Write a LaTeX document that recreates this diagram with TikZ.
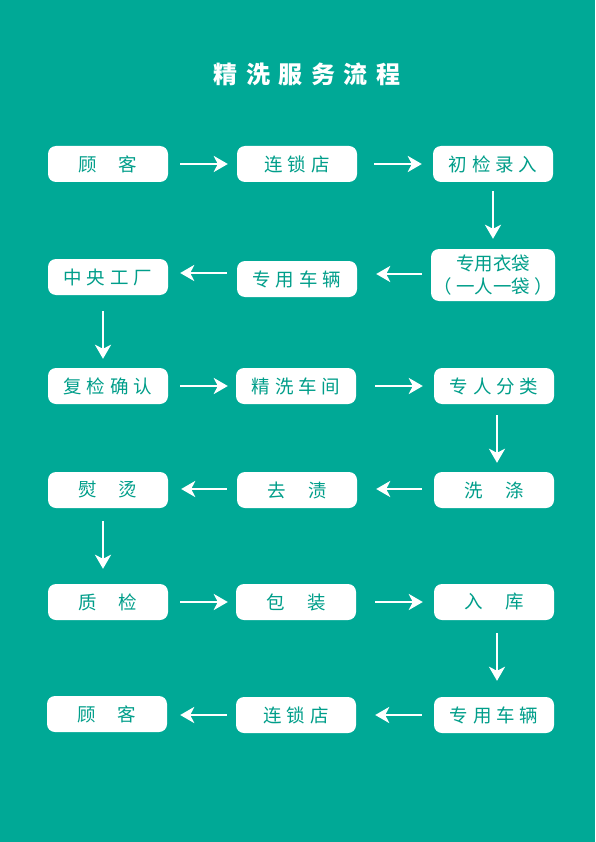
\documentclass[tikz,border=0pt]{standalone}
\usepackage{fontspec}
\newfontfamily\cjk{Noto Sans CJK SC}
\usetikzlibrary{arrows.meta}
\definecolor{teal}{RGB}{0,169,150}
\definecolor{tealtext}{RGB}{0,158,138}
\newcommand\gp{\hspace{5pt}}
\newcommand\gw{\hspace{22pt}}
\tikzset{
  box/.style={fill=white, rounded corners=8pt, minimum width=120pt, minimum height=36pt,
    inner sep=0pt, text=tealtext, font=\cjk\fontsize{18.5}{20}\selectfont, align=center},
  flow/.style={draw=white, line width=2.7pt, -{Stealth[length=14pt,width=16pt,inset=4pt]}},
}
\begin{document}
\begin{tikzpicture}[x=1pt,y=-1pt]
\fill[teal] (0,0) rectangle (595,842);
\useasboundingbox (0,0) rectangle (595,842);
\node[text=white, font=\cjk\bfseries\fontsize{24}{26}\selectfont] (title) at (307,74)
  {精\hspace{8.5pt}洗\hspace{8.5pt}服\hspace{8.5pt}务\hspace{8.5pt}流\hspace{8.5pt}程};
% row 1
\node[box] (a1) at (108,164) {顾\gw 客};
\node[box] (a2) at (297,164) {连\gp 锁\gp 店};
\node[box] (a3) at (493,164) {初\gp 检\gp 录\gp 入};
% row 2
\node[box] (b1) at (108,277) {中\gp 央\gp 工\gp 厂};
\node[box] (b2) at (297,279) {专\gp 用\gp 车\gp 辆};
\node[box, minimum width=124pt, minimum height=52pt, font=\cjk\fontsize{18.5}{23}\selectfont] (b3) at (493,275) {专用衣袋\\（\hspace{4pt}一人一袋\hspace{4pt}）};
% row 3
\node[box] (c1) at (108,386) {复\gp 检\gp 确\gp 认};
\node[box] (c2) at (296,386) {精\gp 洗\gp 车\gp 间};
\node[box] (c3) at (494,386) {专\gp 人\gp 分\gp 类};
% row 4
\node[box] (d1) at (108,490) {熨\gw 烫};
\node[box] (d2) at (297,490) {去\gw 渍};
\node[box] (d3) at (494,490) {洗\gw 涤};
% row 5
\node[box] (e1) at (108,602) {质\gw 检};
\node[box] (e2) at (296,602) {包\gw 装};
\node[box] (e3) at (494,602) {入\gw 库};
% row 6
\node[box] (f1) at (107,714) {顾\gw 客};
\node[box] (f2) at (296,715) {连\gp 锁\gp 店};
\node[box] (f3) at (494,715) {专\gp 用\gp 车\gp 辆};
% horizontal arrows
\draw[flow, shorten <=12pt, shorten >=9pt] (a1.east) -- (a2.west);
\draw[flow, shorten <=17pt, shorten >=11pt] (a2.east) -- (a3.west);
\draw[flow, shorten <=9pt, shorten >=19pt] ([yshift=1pt]b3.west) -- ([yshift=1pt]b3.west -| b2.east);
\draw[flow, shorten <=10pt, shorten >=12pt] ([yshift=6pt]b2.west) -- ([yshift=6pt]b2.west -| b1.east);
\draw[flow, shorten <=12pt, shorten >=8pt] (c1.east) -- (c2.west);
\draw[flow, shorten <=19pt, shorten >=11pt] (c2.east) -- (c3.west);
\draw[flow, shorten <=12pt, shorten >=19pt] ([yshift=1pt]d3.west) -- ([yshift=1pt]d3.west -| d2.east);
\draw[flow, shorten <=10pt, shorten >=13pt] ([yshift=1pt]d2.west) -- ([yshift=1pt]d2.west -| d1.east);
\draw[flow, shorten <=12pt, shorten >=8pt] (e1.east) -- (e2.west);
\draw[flow, shorten <=19pt, shorten >=11pt] (e2.east) -- (e3.west);
\draw[flow, shorten <=12pt, shorten >=19pt] (f3.west) -- (f3.west -| f2.east);
\draw[flow, shorten <=9pt, shorten >=13pt] (f2.west) -- (f2.west -| f1.east);
% vertical arrows
\draw[flow, shorten <=9pt, shorten >=10pt] (a3.south) -- (a3.south |- b3.north);
\draw[flow, shorten <=16pt, shorten >=9pt] ([xshift=-5pt]b1.south) -- ([xshift=-5pt]b1.south |- c1.north);
\draw[flow, shorten <=11pt, shorten >=9pt] ([xshift=3pt]c3.south) -- ([xshift=3pt]c3.south |- d3.north);
\draw[flow, shorten <=13pt, shorten >=15pt] ([xshift=-5pt]d1.south) -- ([xshift=-5pt]d1.south |- e1.north);
\draw[flow, shorten <=13pt, shorten >=16pt] ([xshift=3pt]e3.south) -- ([xshift=3pt]e3.south |- f3.north);
\end{tikzpicture}
\end{document}
